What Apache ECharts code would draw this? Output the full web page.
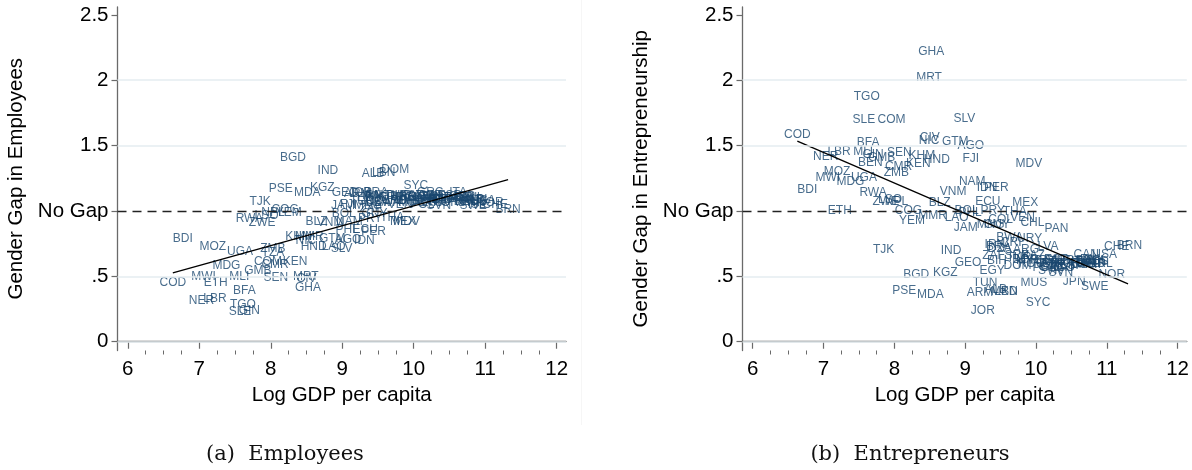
<!DOCTYPE html>
<html>
<head>
<meta charset="utf-8">
<script src="https://cdn.jsdelivr.net/npm/echarts@6/dist/echarts.min.js"></script>
<style>
  html, body { margin: 0; padding: 0; background: #ffffff; }
  #chart { width: 1192px; height: 470px; }
</style>
</head>
<body>
<div id="chart"></div>
<script>
// Country codes, log GDP per capita and the two gender-gap ratios (null = not observed)
const countries = [
  'COD','BDI','NER','MWI','ETH','LBR','MOZ','MDG','MLI','UGA',
  'SLE','TGO','BFA','GIN','BEN','RWA','GMB','TJK','ZWE','LSO',
  'COM','NPL','ZMB','TZA','CMR','SEN','PSE','COG','YEM','BGD',
  'KEN','KHM','MRT','CIV','NIC','MDA','GHA','MMR','HND','BLZ',
  'KGZ','IND','VNM','GTM','LAO','SLV','JAM','BOL','GEO','FJI',
  'PHL','AGO','NAM','ARM','JOR','TUN','IDN','ECU','MNG','PRY',
  'EGY','ZAF','IRN','ALB','PER','GUY','BIH','BRA','DZA','COL',
  'MKD','LBN','BWA','CRI','THA','SRB','DOM','TUR','VEN','MEX',
  'BGR','ARG','MDV','MYS','URY','ROU','CHL','KAZ','MUS','SYC',
  'HRV','POL','HUN','LVA','SVK','CZE','GRC','PRT','LTU','EST',
  'PAN','RUS','SVN','MLT','TTO','ISR','CYP','KOR','ESP','JPN',
  'ITA','FRA','GBR','FIN','CAN','BEL','DEU','AUT','DNK','NLD',
  'SWE','AUS','ISL','IRL','USA','NOR','CHE','BRN'
];
const logGdp = [
  6.63, 6.77, 7.03, 7.06, 7.23, 7.22, 7.19, 7.38, 7.56, 7.57,
  7.57, 7.61, 7.63, 7.70, 7.66, 7.70, 7.82, 7.85, 7.88, 7.94,
  7.96, 8.03, 8.03, 8.03, 8.06, 8.07, 8.14, 8.20, 8.25, 8.31,
  8.34, 8.39, 8.49, 8.50, 8.49, 8.51, 8.52, 8.54, 8.60, 8.64,
  8.72, 8.80, 8.83, 8.86, 8.88, 8.99, 9.01, 9.02, 9.04, 9.08,
  9.07, 9.08, 9.10, 9.21, 9.25, 9.28, 9.31, 9.32, 9.36, 9.39,
  9.38, 9.40, 9.42, 9.43, 9.44, 9.45, 9.45, 9.47, 9.49, 9.50,
  9.55, 9.58, 9.63, 9.65, 9.70, 9.73, 9.74, 9.76, 9.81, 9.85,
  9.85, 9.86, 9.90, 9.90, 9.91, 9.93, 9.95, 9.96, 9.97, 10.03,
  10.10, 10.12, 10.15, 10.17, 10.20, 10.23, 10.23, 10.25, 10.26, 10.28,
  10.29, 10.31, 10.35, 10.36, 10.38, 10.40, 10.42, 10.45, 10.50, 10.54,
  10.62, 10.65, 10.68, 10.70, 10.71, 10.72, 10.75, 10.78, 10.80, 10.82,
  10.83, 10.85, 10.88, 10.95, 10.97, 11.07, 11.14, 11.32
];
const gapEmployees = [
  0.454, 0.79, 0.316, 0.50, 0.454, 0.327, 0.725, 0.58, 0.50, 0.69,
  0.232, 0.28, 0.39, 0.237, null, 0.944, 0.54, 1.07, 0.91, 0.965,
  0.615, 0.99, 0.71, 0.68, 0.59, 0.49, 1.17, 1.01, 0.99, 1.41,
  0.615, 0.806, 0.495, 0.48, 0.77, 1.14, 0.41, 0.806, 0.725, 0.92,
  1.18, 1.31, 0.91, 0.79, 0.73, 0.71, 1.04, 0.98, 1.14, 1.05,
  0.858, 0.78, 0.92, 1.13, 1.14, 1.07, 0.77, 0.86, 1.04, 0.94,
  1.10, 1.02, 1.12, 1.284, 0.845, 0.98, 1.10, 1.14, 1.06, 1.08,
  1.12, 1.296, 1.06, 1.10, 0.95, 1.08, 1.317, 1.12, 1.05, 0.92,
  1.11, 1.10, 0.92, 1.08, 1.12, 1.10, 1.08, 1.12, 1.06, 1.19,
  1.10, 1.05, 1.07, 1.12, 1.09, 1.12, 1.14, 1.08, 1.06, 1.11,
  1.10, 1.09, 1.04, 1.10, 1.09, 1.10, 1.09, 1.06, 1.12, 1.07,
  1.14, 1.09, 1.11, 1.10, 1.10, 1.07, 1.10, 1.08, 1.06, 1.09,
  1.04, 1.07, 1.05, 1.09, 1.08, 1.06, 1.05, 1.01
];
const gapEntrepreneurs = [
  1.585, 1.164, 1.414, 1.253, 1.003, 1.45, 1.304, 1.227, 1.45, 1.253,
  1.695, 1.876, 1.526, 1.43, 1.373, 1.143, 1.407, 0.704, 1.07, 1.09,
  1.695, 1.07, 1.29, null, 1.337, 1.445, 0.393, 1.003, 0.926, 0.513,
  1.363, 1.426, 2.02, 1.56, 1.534, 0.36, 2.22, 0.967, 1.394, 1.062,
  0.53, 0.70, 1.15, 1.53, 0.947, 1.707, 0.87, 1.003, 0.607, 1.40,
  0.99, 1.50, 1.227, 0.373, 0.237, 0.449, 1.177, 1.07, 0.896, 1.003,
  0.546, 0.658, 0.743, 0.40, 1.177, 0.896, 0.62, 0.73, 0.71, 0.934,
  0.38, 0.385, 0.794, 0.76, 0.993, 0.658, 0.58, 0.64, 0.947, 1.062,
  0.63, 0.704, 1.363, 0.62, 0.79, 0.60, 0.909, 0.66, 0.455, 0.296,
  0.618, 0.57, 0.60, 0.73, 0.54, 0.58, 0.57, 0.60, 0.61, 0.63,
  0.865, 0.618, 0.525, 0.59, 0.57, 0.62, 0.57, 0.60, 0.58, 0.46,
  0.61, 0.60, 0.59, 0.61, 0.666, 0.62, 0.60, 0.59, 0.63, 0.60,
  0.42, 0.61, 0.62, 0.60, 0.666, 0.51, 0.727, 0.735
];

// Fitted linear trend, end points over the observed GDP range
const fitEmployees = [[6.63, 0.526], [11.32, 1.24]];
const fitEntrepreneurs = [[6.63, 1.534], [11.30, 0.442]];

// Axis ticks and labels
const xTicks = [6, 7, 8, 9, 10, 11, 12];
const yTicks = [0, 0.5, 1, 1.5, 2, 2.5];
const yTickLabels = ['0', '.5', 'No Gap', '1.5', '2', '2.5'];
const gridValues = [0, 0.5, 1.5, 2];
const noGapValue = 1;

const yTitles = ['Gender Gap in Employees', 'Gender Gap in Entrepreneurship'];
const xTitle = 'Log GDP per capita';
const captions = ['(a)  Employees', '(b)  Entrepreneurs'];

// Quarter-step minor ticks between the labelled ones
const xMinorTicks = [];
for (let i = 0; i < xTicks.length - 1; i++) {
  for (let k = 1; k < 4; k++) xMinorTicks.push(xTicks[i] + k * (xTicks[i + 1] - xTicks[i]) / 4);
}

const FONT = 'Liberation Sans, Arial, sans-serif';
const AXIS_FONT_SIZE = 20.5;
const LABEL_COLOR = '#1a476f';
const AXIS_COLOR = '#6a6a6a';
const X_MIN = 5.856, X_MAX = 12.13, Y_MIN = -0.067, Y_MAX = 2.56;
const panelLefts = [117.5, 742.5];

function pointsFor(gaps) {
  const out = [];
  countries.forEach((c, i) => {
    if (gaps[i] !== null) out.push({ name: c, value: [logGdp[i], gaps[i]] });
  });
  return out;
}

const grids = panelLefts.map(l => ({ left: l, top: 7, width: 448.5, height: 343.5 }));

const xAxes = [];
const yAxes = [];
[0, 1].forEach(p => {
  xAxes.push({
    gridIndex: p, type: 'value', position: 'bottom', min: X_MIN, max: X_MAX,
    axisLine: { show: true, lineStyle: { color: AXIS_COLOR, width: 1.3 } },
    axisTick: { show: true, customValues: xTicks, length: 7, lineStyle: { color: AXIS_COLOR, width: 1.2 } },
    axisLabel: { show: true, customValues: xTicks, margin: 8, fontSize: AXIS_FONT_SIZE, color: '#000', fontFamily: FONT },
    splitLine: { show: false },
    name: xTitle, nameLocation: 'middle', nameGap: 28,
    nameTextStyle: { fontSize: AXIS_FONT_SIZE, color: '#000', fontFamily: FONT }
  });
  xAxes.push({
    gridIndex: p, type: 'value', position: 'bottom', min: X_MIN, max: X_MAX,
    axisLine: { show: false },
    axisTick: { show: true, customValues: xMinorTicks, length: 4, lineStyle: { color: AXIS_COLOR, width: 1 } },
    axisLabel: { show: false },
    splitLine: { show: false }
  });
  yAxes.push({
    gridIndex: p, type: 'value', min: Y_MIN, max: Y_MAX,
    axisLine: { show: true, lineStyle: { color: AXIS_COLOR, width: 1.3 } },
    axisTick: { show: true, customValues: yTicks, length: 6, lineStyle: { color: AXIS_COLOR, width: 1.2 } },
    axisLabel: {
      show: true, customValues: yTicks, margin: 9, fontSize: AXIS_FONT_SIZE, color: '#000', fontFamily: FONT,
      formatter: v => {
        const i = yTicks.findIndex(t => Math.abs(t - v) < 1e-6);
        return i >= 0 ? yTickLabels[i] : '';
      }
    },
    splitLine: { show: false },
    name: yTitles[p], nameLocation: 'middle', nameGap: 91,
    nameTextStyle: { fontSize: AXIS_FONT_SIZE, color: '#000', fontFamily: FONT }
  });
});

const series = [];
[gapEmployees, gapEntrepreneurs].forEach((gaps, p) => {
  const fit = p === 0 ? fitEmployees : fitEntrepreneurs;
  // light horizontal grid
  series.push({
    type: 'line', xAxisIndex: 2 * p, yAxisIndex: p, data: [], z: 1, silent: true,
    markLine: {
      silent: true, symbol: ['none', 'none'], label: { show: false },
      lineStyle: { color: '#e4edf0', width: 1.6, type: 'solid' },
      emphasis: { disabled: true },
      data: gridValues.map(v => ({ yAxis: v }))
    }
  });
  // parity reference line
  series.push({
    type: 'line', xAxisIndex: 2 * p, yAxisIndex: p, data: [], z: 2, silent: true,
    markLine: {
      silent: true, symbol: ['none', 'none'], label: { show: false },
      lineStyle: { color: '#222', width: 1.3, type: [9, 6] },
      emphasis: { disabled: true },
      data: [{ yAxis: noGapValue }]
    }
  });
  // country code labels
  series.push({
    type: 'scatter', xAxisIndex: 2 * p, yAxisIndex: p, z: 3, silent: true,
    symbolSize: 1, itemStyle: { color: 'rgba(0,0,0,0)' },
    label: {
      show: true, position: 'inside', formatter: '{b}',
      fontSize: 12, color: LABEL_COLOR, fontFamily: FONT
    },
    labelLayout: { hideOverlap: false },
    emphasis: { disabled: true },
    data: pointsFor(gaps)
  });
  // linear fit
  series.push({
    type: 'line', xAxisIndex: 2 * p, yAxisIndex: p, z: 4, silent: true,
    symbol: 'none', lineStyle: { color: '#000', width: 1.3 },
    data: fit
  });
});

const chart = echarts.init(document.getElementById('chart'), null, { renderer: 'canvas' });
chart.setOption({
  animation: false,
  backgroundColor: '#ffffff',
  grid: grids,
  xAxis: xAxes,
  yAxis: yAxes,
  series: series,
  graphic: [
    { type: 'line', shape: { x1: 581.5, y1: 0, x2: 581.5, y2: 425 }, style: { stroke: '#f6f6f6', lineWidth: 1 }, silent: true },
    { type: 'text', x: 285, y: 455, style: { text: captions[0], font: '21px "DejaVu Serif"', fill: '#111', align: 'center', verticalAlign: 'middle' } },
    { type: 'text', x: 910, y: 455, style: { text: captions[1], font: '21px "DejaVu Serif"', fill: '#111', align: 'center', verticalAlign: 'middle' } }
  ]
});
</script>
</body>
</html>
